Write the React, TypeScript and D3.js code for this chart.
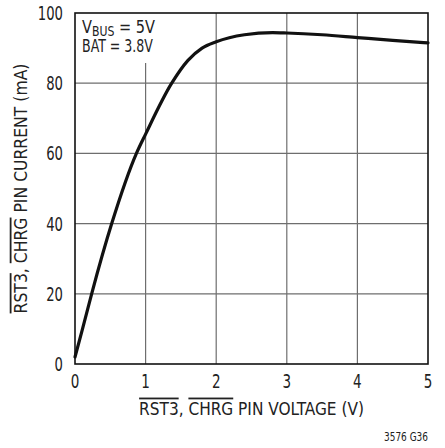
import { useEffect, useRef } from 'react'
import * as d3 from 'd3'

// curve (V, mA)
const voltage = [0, 0.1, 0.236, 0.52, 0.87, 1.0, 1.37, 1.6, 1.8, 2.0, 2.4, 2.8, 3.0, 3.5, 4.0, 4.5, 5.0]
const current = [2, 9.5, 20, 40, 60, 65.5, 80, 86.5, 90, 91.8, 93.8, 94.4, 94.3, 93.8, 93.0, 92.2, 91.5]
const xTicks = [0, 1, 2, 3, 4, 5]
const yTicks = [0, 20, 40, 60, 80, 100]

const FONT = '"DejaVu Sans Condensed", "Liberation Sans", Arial, sans-serif'
const INK = '#222'

type Part = { t: string; over?: boolean; sub?: boolean }

export default function App() {
  const svgRef = useRef<SVGSVGElement>(null)

  useEffect(() => {
    if (!svgRef.current) return
    document.body.style.margin = '0'

    const width = 445
    const height = 448
    const margin = { top: 13, right: 17, bottom: 84, left: 75 }

    const svg = d3.select(svgRef.current)
    svg.selectAll('*').remove()

    const x = d3.scaleLinear().domain([0, 5]).range([margin.left, width - margin.right])
    const y = d3.scaleLinear().domain([0, 100]).range([height - margin.bottom, margin.top])

    const g = svg.append('g')

    // grid (x=1 line stops under the condition note)
    xTicks.slice(1, -1).forEach(t => {
      g.append('line')
        .attr('x1', x(t)).attr('x2', x(t))
        .attr('y1', t === 1 ? 63 : y(100)).attr('y2', y(0))
        .attr('stroke', '#6e6e6e').attr('stroke-width', 1.2)
    })
    yTicks.slice(1, -1).forEach(t => {
      g.append('line')
        .attr('x1', x(0)).attr('x2', x(5))
        .attr('y1', y(t)).attr('y2', y(t))
        .attr('stroke', '#6e6e6e').attr('stroke-width', 1.2)
    })

    // frame
    g.append('rect')
      .attr('x', x(0)).attr('y', y(100))
      .attr('width', x(5) - x(0)).attr('height', y(0) - y(100))
      .attr('fill', 'none').attr('stroke', '#111').attr('stroke-width', 1.6)

    // curve
    const pts = voltage.map((v, i) => [v, current[i]] as [number, number])
    const line = d3.line<[number, number]>()
      .x(d => x(d[0])).y(d => y(d[1]))
      .curve(d3.curveMonotoneX)
    g.append('path')
      .attr('d', line(pts))
      .attr('fill', 'none').attr('stroke', '#111').attr('stroke-width', 3.2)
      .attr('stroke-linecap', 'round')

    // text squeezed horizontally to a target width (mimics a condensed face)
    const label = (tx: number, ty: number, parts: Part[], size: number, len: number,
      anchor = 'start', rot = 0) => {
      const el = g.append('text')
        .attr('text-anchor', anchor)
        .attr('font-family', FONT).attr('font-size', size).attr('fill', INK)
      let shifted = false
      parts.forEach(p => {
        const ts = el.append('tspan').text(p.t)
        if (p.over) ts.attr('text-decoration', 'overline')
        if (p.sub) { ts.attr('font-size', size * 0.75).attr('dy', 3); shifted = true }
        else if (shifted) { ts.attr('dy', -3); shifted = false }
      })
      const w = (el.node() as SVGTextElement).getBBox().width || len
      el.attr('transform', `translate(${tx},${ty}) rotate(${rot}) scale(${len / w},1)`)
      return el
    }

    // tick labels
    xTicks.forEach(t => label(x(t), y(0) + 24, [{ t: String(t) }], 19, 8.6, 'middle'))
    yTicks.forEach(t => label(x(0) - 12, y(t) + 7, [{ t: String(t) }], 19, String(t).length * 8.4, 'end'))

    // condition note
    label(x(0) + 7, 33, [{ t: 'V' }, { t: 'BUS', sub: true }, { t: ' = 5V' }], 18, 73)
    label(x(0) + 7, 52, [{ t: 'BAT = 3.8V' }], 18, 71)

    // axis titles
    label((x(0) + x(5)) / 2, 415,
      [{ t: 'RST3', over: true }, { t: ', ' }, { t: 'CHRG', over: true }, { t: ' PIN VOLTAGE (V)' }],
      18, 225, 'middle')
    label(27, (y(0) + y(100)) / 2,
      [{ t: 'RST3', over: true }, { t: ', ' }, { t: 'CHRG', over: true }, { t: ' PIN CURRENT (mA)' }],
      18, 250, 'middle', -90)

    label(x(5), 441, [{ t: '3576 G36' }], 11.5, 44, 'end')
  }, [])

  return <svg ref={svgRef} width={445} height={448} style={{ display: 'block', background: '#fff' }} />
}
